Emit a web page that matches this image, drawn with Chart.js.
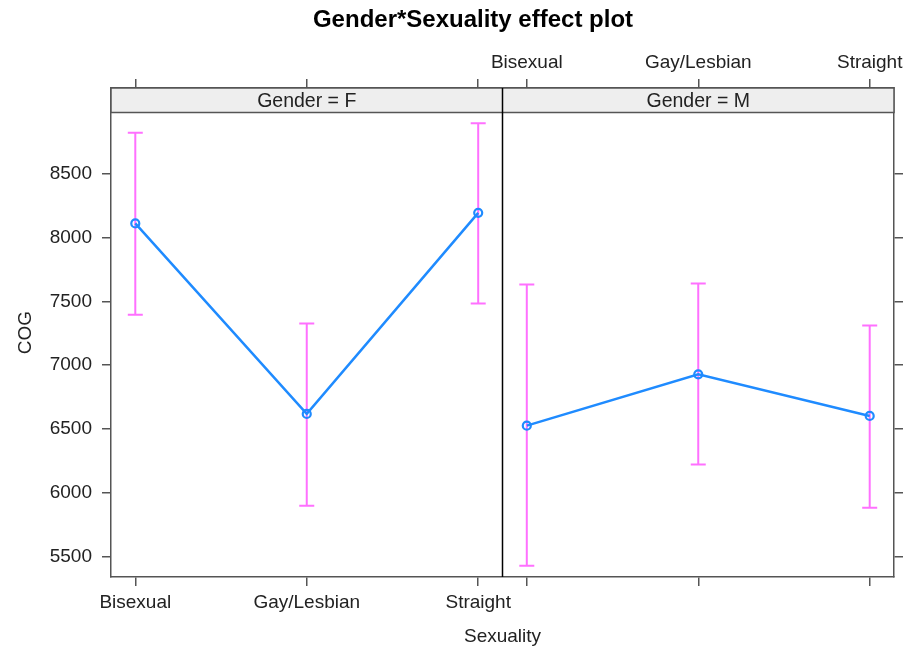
<!DOCTYPE html>
<html>
<head>
<meta charset="utf-8">
<script src="https://cdn.jsdelivr.net/npm/chart.js@4.4.0/dist/chart.umd.min.js"></script>
<style>
html,body{margin:0;padding:0;background:#fff}
#wrap{position:relative;width:907px;height:649px}
#title{position:absolute;left:173px;width:600px;top:7px;text-align:center;font:bold 24px "Liberation Sans",Arial,sans-serif;line-height:24px;color:#000}
</style>
</head>
<body>
<div id="wrap">
  <canvas id="effect"></canvas>
  <div id="title">Gender*Sexuality effect plot</div>
</div>
<script>
// values
const categories=["Bisexual","Gay/Lesbian","Straight"];
const genders=["F","M"];
const cogF=[8113,6618,8196], lowerF=[7396,5898,7484], upperF=[8824,7327,8900];
const cogM=[6526,6929,6602], lowerM=[5427,6220,5882], upperM=[7633,7641,7312];
const yTicks=[5500,6000,6500,7000,7500,8000,8500];
const yRange=[5338,9176];

const series=[[cogF,lowerF,upperF],[cogM,lowerM,upperM]];
const pad=0.1417, span=categories.length-1+2*pad;
const xAt=(p,i)=>p*span+i;
const tickPos=genders.flatMap((g,p)=>categories.map((c,i)=>xAt(p,i)));
const font={family:"'Liberation Sans', Arial, sans-serif",size:19};
const ink="#222", frame="#555", blue="#1f8bff", pink="#ff70ff";
const fixTicks=vals=>s=>{s.ticks=vals.map(v=>({value:v}))};
const grid={drawOnChartArea:false,tickLength:9,color:frame,lineWidth:1.5};
const border={color:frame,width:1.5};

const xAxis=(position,panel,h)=>({type:"linear",position,min:-pad,max:2*span-pad,
  afterBuildTicks:fixTicks(tickPos),
  afterFit:s=>{s.height=h;s.paddingLeft=0;s.paddingRight=0},
  grid,border,
  ticks:{autoSkip:false,maxRotation:0,padding:5,color:ink,font,
    callback:(v,i)=>Math.floor(i/categories.length)===panel?categories[i%categories.length]:""}
});
const yAxis=(position,w,labels)=>({type:"linear",position,min:yRange[0],max:yRange[1],
  afterBuildTicks:fixTicks(yTicks),afterFit:s=>{s.width=w},
  grid,border,ticks:{display:labels,padding:10,color:ink,font,callback:v=>String(v)}
});

const bars={id:"bars",beforeDatasetsDraw(c){
  const {ctx}=c,x=c.scales.x,y=c.scales.y;
  ctx.save();ctx.strokeStyle=pink;ctx.lineWidth=2;
  series.forEach(([m,lo,hi],p)=>categories.forEach((_,i)=>{
    const px=x.getPixelForValue(xAt(p,i)),a=y.getPixelForValue(lo[i]),b=y.getPixelForValue(hi[i]);
    ctx.beginPath();
    ctx.moveTo(px,a);ctx.lineTo(px,b);
    ctx.moveTo(px-7.5,a);ctx.lineTo(px+7.5,a);
    ctx.moveTo(px-7.5,b);ctx.lineTo(px+7.5,b);
    ctx.stroke();
  }));
  ctx.restore();
}};

const strips={id:"strips",beforeDatasetsDraw(c){
  const {ctx,chartArea:a}=c,mid=c.scales.x.getPixelForValue(span-pad),h=24.5;
  const edges=[a.left,mid,a.right];
  ctx.save();
  genders.forEach((g,p)=>{
    const l=edges[p],r=edges[p+1];
    ctx.fillStyle="#eeeeee";ctx.fillRect(l,a.top,r-l,h);
    ctx.fillStyle=ink;ctx.font="19.5px 'Liberation Sans', Arial, sans-serif";
    ctx.textAlign="center";ctx.textBaseline="middle";
    ctx.fillText("Gender = "+g,(l+r)/2,a.top+h/2+1);
  });
  ctx.strokeStyle=frame;ctx.lineWidth=1.5;
  ctx.strokeRect(a.left,a.top,a.right-a.left,h);
  ctx.strokeStyle="#000";
  ctx.beginPath();ctx.moveTo(mid,a.top);ctx.lineTo(mid,a.bottom);ctx.stroke();
  ctx.restore();
}};

new Chart("effect",{type:"line",
  data:{datasets:genders.map((g,p)=>({label:"Gender = "+g,
    data:categories.map((c,i)=>({x:xAt(p,i),y:series[p][0][i]})),
    borderColor:blue,borderWidth:2.5,pointRadius:4,pointBorderWidth:2.2,
    pointBorderColor:blue,pointBackgroundColor:"rgba(0,0,0,0)",xAxisID:"x",yAxisID:"y"}))},
  options:{responsive:true,maintainAspectRatio:false,animation:false,
    layout:{padding:0},
    plugins:{legend:{display:false},tooltip:{enabled:false},title:{display:false}},
    scales:{
      x:{...xAxis("bottom",0,72),title:{display:true,text:"Sexuality",color:ink,font,padding:{top:0,bottom:1}}},
      x2:xAxis("top",1,88),
      y:{...yAxis("left",111,true),title:{display:true,text:"COG",color:ink,font,padding:{top:14,bottom:0}}},
      y2:yAxis("right",13,false)
    }},
  plugins:[bars,strips]
});
</script>
</body>
</html>
